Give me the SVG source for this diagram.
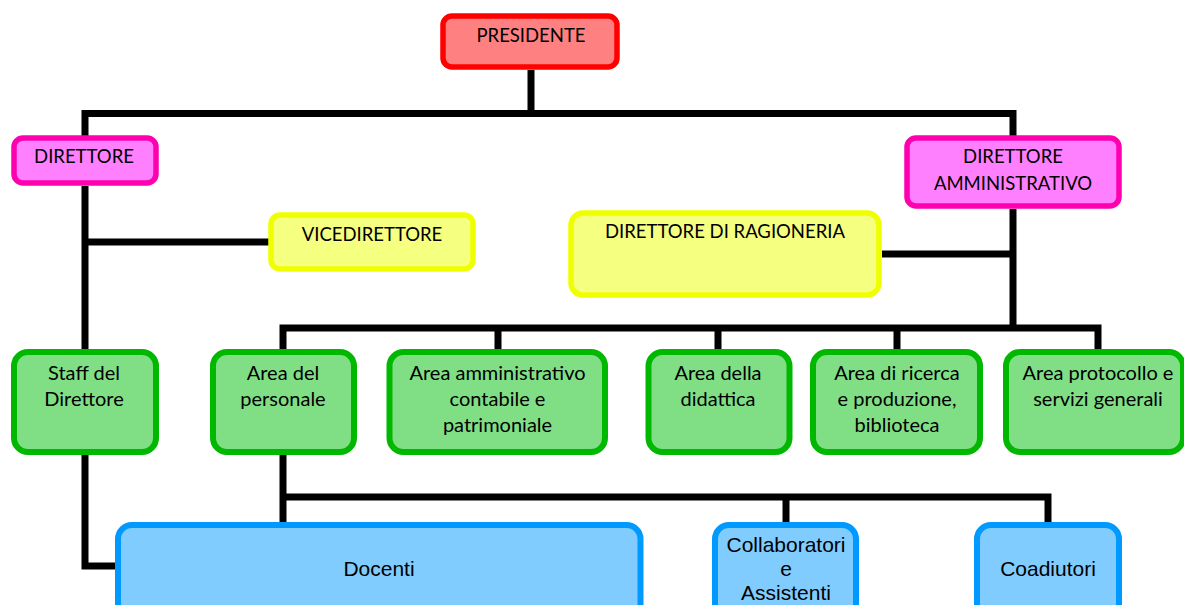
<svg xmlns="http://www.w3.org/2000/svg" width="1184" height="605" viewBox="0 0 1184 605">
<style>
.c{fill:none;stroke:#000;stroke-width:7;stroke-linejoin:miter;stroke-linecap:butt}
.t{font-family:Lato,"Liberation Sans",sans-serif;font-size:18.5px;fill:#000;text-anchor:middle}
.m{font-size:20px}
.a{font-family:"Liberation Sans",Arial,sans-serif;font-size:21px;fill:#000;text-anchor:middle}
.red{fill:#FF8080;stroke:#FF0000;stroke-width:5.5}
.pink{fill:#FF80FF;stroke:#FF00B0;stroke-width:5.5}
.yel{fill:#F5FF80;stroke:#F0FF00;stroke-width:5.5}
.grn{fill:#80DF85;stroke:#00B800;stroke-width:6}
.blu{fill:#80CCFF;stroke:#0099FF;stroke-width:6}
</style>
<rect width="1184" height="605" fill="#fff"/>
<g id="connectors">
<path class="c" d="M531 70V113.5"/>
<path class="c" d="M85 136V113.5H1013V136"/>
<path class="c" d="M85 186V566H116"/>
<path class="c" d="M85 242H269"/>
<path class="c" d="M1013 209V328"/>
<path class="c" d="M882 254H1013"/>
<path class="c" d="M283 350V328H1098V350"/>
<path class="c" d="M498 328V350M718 328V350M897 328V350"/>
<path class="c" d="M283 455V523"/>
<path class="c" d="M283 497H1048V523"/>
<path class="c" d="M786 497V523"/>
</g>
<g id="presidente"><rect class="red" x="443" y="16" width="174" height="51" rx="9"/><text class="t" x="531" y="42">PRESIDENTE</text></g>
<g id="direttore"><rect class="pink" x="14" y="138" width="142" height="45" rx="9"/><text class="t" x="84" y="163">DIRETTORE</text></g>
<g id="direttore-amministrativo"><rect class="pink" x="907" y="138" width="212" height="68" rx="9"/><text class="t" x="1013" y="163">DIRETTORE</text><text class="t" x="1013" y="190">AMMINISTRATIVO</text></g>
<g id="vicedirettore"><rect class="yel" x="271" y="215" width="202" height="54" rx="9"/><text class="t" x="372" y="241">VICEDIRETTORE</text></g>
<g id="ragioneria"><rect class="yel" x="571" y="213" width="308" height="82" rx="12"/><text class="t" x="725" y="238">DIRETTORE DI RAGIONERIA</text></g>
<g id="staff"><rect class="grn" x="14" y="352" width="142" height="100" rx="14"/><text class="t m" x="84" y="380">Staff del</text><text class="t m" x="84" y="406">Direttore</text></g>
<g id="personale"><rect class="grn" x="213" y="352" width="141" height="100" rx="14"/><text class="t m" x="283" y="380">Area del</text><text class="t m" x="283" y="406">personale</text></g>
<g id="amministrativo"><rect class="grn" x="389.5" y="352" width="215.5" height="100" rx="14"/><text class="t m" x="497.5" y="380">Area amministrativo</text><text class="t m" x="497.5" y="406">contabile e</text><text class="t m" x="497.5" y="432">patrimoniale</text></g>
<g id="didattica"><rect class="grn" x="648.5" y="352" width="141" height="100" rx="14"/><text class="t m" x="718" y="380">Area della</text><text class="t m" x="718" y="406">didattica</text></g>
<g id="ricerca"><rect class="grn" x="813" y="352" width="167" height="100" rx="14"/><text class="t m" x="897" y="380">Area di ricerca</text><text class="t m" x="897" y="406">e produzione,</text><text class="t m" x="897" y="432">biblioteca</text></g>
<g id="protocollo"><rect class="grn" x="1006" y="352" width="177" height="100" rx="14"/><text class="t m" x="1098" y="380">Area protocollo e</text><text class="t m" x="1098" y="406">servizi generali</text></g>
<g id="docenti"><rect class="blu" x="118" y="525" width="522.5" height="95" rx="14"/><text class="a" x="379" y="576">Docenti</text></g>
<g id="collaboratori"><rect class="blu" x="715" y="525" width="141" height="95" rx="14"/><text class="a" x="786" y="552">Collaboratori</text><text class="a" x="786" y="576">e</text><text class="a" x="786" y="600">Assistenti</text></g>
<g id="coadiutori"><rect class="blu" x="977" y="525" width="142" height="95" rx="14"/><text class="a" x="1048" y="576">Coadiutori</text></g>
</svg>
